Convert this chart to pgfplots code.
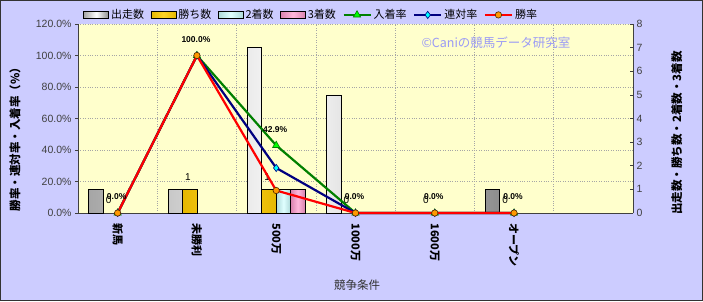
\documentclass[border=0pt]{standalone}
\usepackage{pgfplots}
\pgfplotsset{compat=1.18}
\usepackage{fontspec}
\setmainfont{Liberation Sans}
\newfontfamily\jp{Noto Sans CJK JP}

\definecolor{chartbg}{RGB}{204,204,255}
\definecolor{plotbg}{RGB}{255,255,204}
\definecolor{winGold}{RGB}{255,204,0}
\definecolor{placeCyan}{RGB}{204,255,255}
\definecolor{showPink}{RGB}{255,153,204}
\definecolor{inGreen}{RGB}{0,128,0}
\definecolor{mkGreen}{RGB}{0,255,0}
\definecolor{renNavy}{RGB}{0,0,128}
\definecolor{mkCyan}{RGB}{0,255,255}
\definecolor{winRed}{RGB}{255,0,0}
\definecolor{mkOrange}{RGB}{255,153,0}
\definecolor{markText}{RGB}{155,155,245}

\pgfplotsset{
  /pgf/number format/assume math mode=true,
  plotframe/.style={scale only axis, width=555pt, height=189pt,
    at={(78pt,88pt)}, anchor=south west, xmin=-0.5, xmax=6.5},
  barlegend/.style={legend image code/.code={\draw[##1] (0pt,-3.5pt) rectangle (25pt,3.5pt);}},
  linelegend/.style={legend image code/.code={\draw[mark repeat=2,mark phase=2,##1]
      plot coordinates {(0pt,0pt)(13.5pt,0pt)(27pt,0pt)};}},
  runsbar/.style={draw=black, line width=0.7pt, left color=black!35, right color=black!45, middle color=white},
  winbar/.style={draw=black, line width=0.7pt, left color=winGold!90!black, right color=winGold!90!black, middle color=winGold!85!white},
  secbar/.style={draw=black, line width=0.7pt, left color=placeCyan!85!black, right color=placeCyan!85!black, middle color=placeCyan!60!white},
  thirdbar/.style={draw=black, line width=0.7pt, left color=showPink!85!black, right color=showPink!85!black, middle color=showPink!70!white},
  inline/.style={inGreen, line width=2.2pt, mark=triangle*, mark size=4.2pt,
    mark options={fill=mkGreen, draw=inGreen, line width=0.6pt}},
  renline/.style={renNavy, line width=2.2pt, mark=diamond*, mark size=3.6pt,
    mark options={fill=mkCyan, draw=renNavy, line width=0.6pt}},
  winline/.style={winRed, line width=2.2pt, mark=*, mark size=3.2pt,
    mark options={fill=mkOrange, draw=black!70!orange, line width=0.6pt}},
}

\begin{document}
\begin{tikzpicture}
% chart area
\draw[fill=chartbg, draw=black!80, line width=1pt] (0.5pt,0.5pt) rectangle (702.5pt,300.5pt);

% percentage axis: background, grid, category labels
\begin{axis}[plotframe,
  ymin=0, ymax=120,
  ytick={0,20,...,120},
  yticklabels={0.0\%,20.0\%,40.0\%,60.0\%,80.0\%,100.0\%,120.0\%},
  axis background/.style={fill=plotbg},
  axis x line*=bottom, axis y line*=left,
  axis line style={black!75, line width=0.8pt},
  ymajorgrids,
  major grid style={dotted, black!35, line width=0.6pt},
  minor grid style={dotted, black!35, line width=0.6pt},
  xtick={0,...,5},
  xticklabels={{新馬},{未勝利},{500万},{1000万},{1600万},{オープン}},
  minor xtick={0.5,1.5,...,5.5},
  xminorgrids,
  xtick style={draw=none},
  ytick style={black!75, line width=0.6pt},
  tick align=outside, major tick length=3pt,
  xticklabel shift=4pt,
  xticklabel style={rotate=-90, anchor=west, font=\jp\bfseries\fontsize{11}{12}\selectfont},
  yticklabel style={font=\fontsize{10.5}{12}\selectfont, text=black!75},
  xlabel={\jp 競争条件},
  xlabel style={at={(axis description cs:0.503,-0.381)}, anchor=center,
    font=\fontsize{11.5}{12}\selectfont, text=black!80},
  ylabel={\jp\bfseries 勝率・連対率・入着率（\%）},
  ylabel style={at={(axis description cs:-0.1135,0.405)}, anchor=center,
    font=\fontsize{11.5}{12}\selectfont},
]
\end{axis}

% count axis: bars
\begin{axis}[plotframe,
  ymin=0, ymax=8,
  ytick={0,...,8},
  axis x line=none, axis y line*=right,
  axis line style={black!75, line width=0.8pt},
  tick align=inside, major tick length=3pt,
  ytick style={black!75, line width=0.6pt},
  yticklabel style={font=\fontsize{10.5}{12}\selectfont, text=black!75},
  ylabel={\jp\bfseries 出走数・勝ち数・2着数・3着数},
  ylabel style={at={(axis description cs:1.079,0.423)}, anchor=center,
    font=\fontsize{11.5}{12}\selectfont},
  clip=false,
]
% 出走数
\addplot[ybar, bar width=14.4pt, bar shift=-21.6pt, runsbar]
  coordinates {(0,1) (1,1) (2,7) (3,5) (5,1)};
% 勝ち数
\addplot[ybar, bar width=14.4pt, bar shift=-7.2pt, winbar]
  coordinates {(1,1) (2,1)};
% 2着数
\addplot[ybar, bar width=14.4pt, bar shift=7.2pt, secbar]
  coordinates {(2,1)};
% 3着数
\addplot[ybar, bar width=14.4pt, bar shift=21.6pt, thirdbar]
  coordinates {(2,1)};
% 勝ち数 value labels
\addplot[draw=none, mark=none, point meta=y, nodes near coords,
  nodes near coords style={font=\fontsize{10}{10}\selectfont, anchor=center,
    yshift=12.5pt, xshift=-9pt}]
  coordinates {(0,0) (1,1) (2,1) (3,0) (4,0) (5,0)};
\end{axis}

% percentage axis: rate lines and legend
\begin{axis}[plotframe,
  ymin=0, ymax=120,
  hide axis, clip=false,
  legend columns=7,
  legend style={draw=none, fill=none, at={(0.004,1.048)}, anchor=west,
    font=\jp\fontsize{11}{12}\selectfont,
    /tikz/every even column/.append style={column sep=4.5pt}},
  legend cell align=left,
]
\addlegendimage{barlegend, runsbar}
\addlegendentry{出走数}
\addlegendimage{barlegend, winbar}
\addlegendentry{勝ち数}
\addlegendimage{barlegend, secbar}
\addlegendentry{2着数}
\addlegendimage{barlegend, thirdbar}
\addlegendentry{3着数}
% 入着率
\addplot[linelegend, inline, point meta=y,
  nodes near coords={\pgfmathprintnumber[fixed,fixed zerofill,precision=1]{\pgfplotspointmeta}\%},
  nodes near coords style={font=\bfseries\fontsize{8.5}{9}\selectfont, text=black,
    anchor=center, yshift=16pt, xshift=-1pt}]
  coordinates {(0,0) (1,100) (2,42.9) (3,0) (4,0) (5,0)};
\addlegendentry{入着率}
% 連対率
\addplot[linelegend, renline]
  coordinates {(0,0) (1,100) (2,28.6) (3,0) (4,0) (5,0)};
\addlegendentry{連対率}
% 勝率
\addplot[linelegend, winline]
  coordinates {(0,0) (1,100) (2,14.3) (3,0) (4,0) (5,0)};
\addlegendentry{勝率}
\end{axis}

\node[text=markText, font=\jp\fontsize{12.5}{13}\selectfont] at (496pt,258pt) {©Caniの競馬データ研究室};
\end{tikzpicture}
\end{document}
